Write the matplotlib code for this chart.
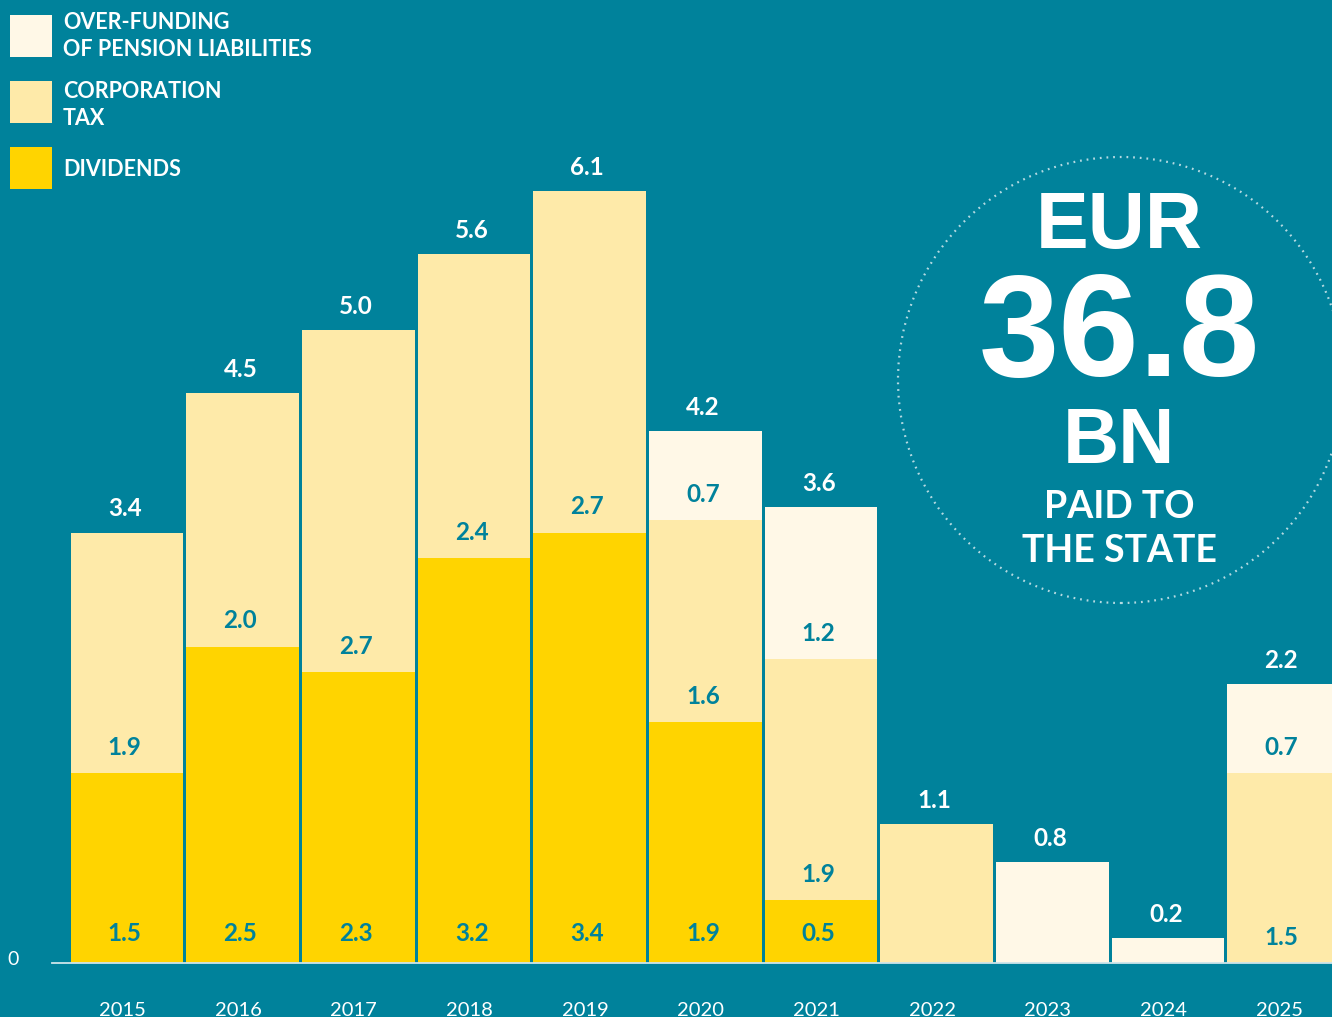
"""Payments to the state, 2015-2025, stacked by type."""

import matplotlib.pyplot as plt
from matplotlib.patches import Ellipse, Rectangle

years = ["2015", "2016", "2017", "2018", "2019", "2020",
         "2021", "2022", "2023", "2024", "2025"]
dividends = [1.5, 2.5, 2.3, 3.2, 3.4, 1.9, 0.5, 0.0, 0.0, 0.0, 0.0]
corporation_tax = [1.9, 2.0, 2.7, 2.4, 2.7, 1.6, 1.9, 1.1, 0.0, 0.0, 1.5]
pension_overfunding = [0.0, 0.0, 0.0, 0.0, 0.0, 0.7, 1.2, 0.0, 0.8, 0.2, 0.7]
totals = [3.4, 4.5, 5.0, 5.6, 6.1, 4.2, 3.6, 1.1, 0.8, 0.2, 2.2]

legend_labels = [("OVER-FUNDING", "OF PENSION LIABILITIES"),
                 ("CORPORATION", "TAX"),
                 ("DIVIDENDS",)]
headline = ["EUR", "36.8", "BN", "PAID TO", "THE STATE"]

TEAL = "#00829B"
GOLD = "#FFD400"
LIGHT = "#FEEAA9"
CREAM = "#FFF8E7"
TEXT_FONT = ["Lato", "DejaVu Sans"]
BIG_FONT = ["Liberation Sans", "DejaVu Sans"]

W, H = 1332, 1017
PX_X = 115.67    # pixels per bar slot
PX_Y = 126.6     # pixels per EUR bn
X0, Y0 = 127, 963  # pixel position of first bar centre and of zero

fig = plt.figure(figsize=(W / 100, H / 100), dpi=100, facecolor=TEAL)
ax = fig.add_axes([0, 0, 1, 1])
ax.set_xlim(-X0 / PX_X, (W - X0) / PX_X)
ax.set_ylim(-(H - Y0) / PX_Y, Y0 / PX_Y)
ax.axis("off")

x = list(range(len(years)))
width = 0.973
tax_bottom = dividends
pension_bottom = [d + t for d, t in zip(dividends, corporation_tax)]

ax.bar(x, dividends, width=width, color=GOLD, linewidth=0)
ax.bar(x, corporation_tax, bottom=tax_bottom, width=width, color=LIGHT, linewidth=0)
ax.bar(x, pension_overfunding, bottom=pension_bottom, width=width, color=CREAM, linewidth=0)

ax.axhline(0, xmin=52 / W, xmax=1, color="#CDE5EA", lw=1.3, zorder=3)

# value labels
for i in x:
    ax.annotate(f"{totals[i]:.1f}", (i - 0.02, totals[i]), xytext=(0, 17),
                textcoords="offset points", ha="center", va="center",
                color="white", fontsize=17.5, fontweight="bold", family=TEXT_FONT)
    segments = [(dividends[i], 0.0, 21.5),
                (corporation_tax[i], tax_bottom[i], 18.5),
                (pension_overfunding[i], pension_bottom[i], 18.5)]
    segments = [s for s in segments if s[0] > 0]
    if len(segments) > 1:
        for value, bottom, off in segments:
            ax.annotate(f"{value:.1f}", (i - 0.02, bottom), xytext=(0, off),
                        textcoords="offset points", ha="center", va="center",
                        color=TEAL, fontsize=17.5, fontweight="bold", family=TEXT_FONT)
    ax.annotate(years[i], (i - 0.04, 0), xytext=(0, -38.2),
                textcoords="offset points", ha="center", va="baseline",
                color="white", fontsize=14.5, family=TEXT_FONT)

ax.annotate("0", (ax.get_xlim()[0], 0), xytext=(5, -1.5), textcoords="offset points",
            ha="left", va="baseline", color="white", fontsize=14, family=TEXT_FONT)

# legend
colors = [CREAM, LIGHT, GOLD]
box_tops = [15, 81, 147]
line_baselines = [(29.3, 56), (97.7, 125), (175.7,)]
for col, top, lines, bases in zip(colors, box_tops, legend_labels, line_baselines):
    ax.add_patch(Rectangle((10 / W, 1 - (top + 42) / H), 42 / W, 42 / H,
                           transform=ax.transAxes, color=col, lw=0))
    for text, base in zip(lines, bases):
        ax.text(63 / W, 1 - base / H, text, transform=ax.transAxes,
                ha="left", va="baseline", color="white", fontsize=15.5,
                fontweight="bold", family=TEXT_FONT)

# headline circle
cx, cy, r = 1121, 380, 223
ax.add_patch(Ellipse((cx / W, 1 - cy / H), 2 * r / W, 2 * r / H,
                     transform=ax.transAxes, fill=False, edgecolor="#B5DAE2",
                     lw=1.6, linestyle=(0, (0.8, 2.2)), clip_on=False))
sizes = [57, 104, 56, 27, 27]
centres = [219, 323, 435, 503.5, 547.5]
fonts = [BIG_FONT, BIG_FONT, BIG_FONT, TEXT_FONT, TEXT_FONT]
for text, size, yc, fam in zip(headline, sizes, centres, fonts):
    ax.text(1119 / W, 1 - yc / H, text, transform=ax.transAxes, ha="center",
            va="center_baseline", color="white", fontsize=size,
            fontweight="bold", family=fam)

fig.savefig("out.png", dpi=100, facecolor=TEAL)
